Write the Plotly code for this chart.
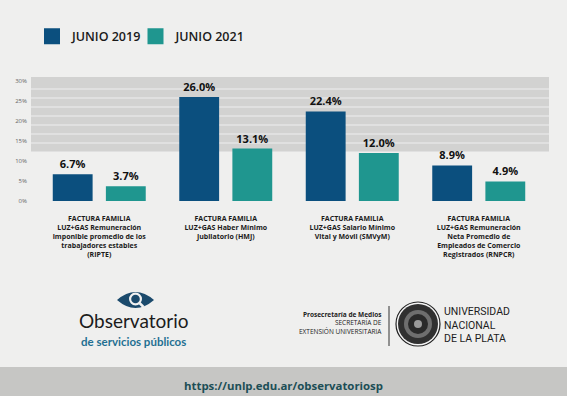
import plotly.graph_objects as go

# ---------------- data ----------------
categories = ["RIPTE", "HMJ", "SMVyM", "RNPCR"]
category_labels = [
    "FACTURA FAMILIA<br>LUZ+GAS Remuneración<br>imponible promedio de los<br>trabajadores estables<br>(RIPTE)",
    "FACTURA FAMILIA<br>LUZ+GAS Haber Mínimo<br>Jubilatorio (HMJ)",
    "FACTURA FAMILIA<br>LUZ+GAS Salario Mínimo<br>Vital y Móvil (SMVyM)",
    "FACTURA FAMILIA<br>LUZ+GAS Remuneración<br>Neta Promedio de<br>Empleados de Comercio<br>Registrados (RNPCR)",
]
series_names = ["JUNIO 2019", "JUNIO 2021"]
values_2019 = [6.7, 26.0, 22.4, 8.9]
values_2021 = [3.7, 13.1, 12.0, 4.9]
series_values = [values_2019, values_2021]
y_tick_values = [0, 5, 10, 15, 20, 25, 30]
y_tick_labels = ["0%", "5%", "10%", "15%", "20%", "25%", "30%"]

# ---------------- style ----------------
W_PX, H_PX = 567, 396
ML, MR, MT, MB = 36, 25, 77, 195
PW, PH = W_PX - ML - MR, H_PX - MT - MB
colors = ["#0b4f7e", "#1f968f"]
FONT = "Open Sans"
legend_ids = ["legend", "legend2"]
legend_left_px = [32, 135.5]


def px(x):
    return (x - ML) / PW


def py(y):
    return 1 - (y - MT) / PH


fig = go.Figure()

for name, vals, col in zip(series_names, series_values, colors):
    fig.add_trace(go.Bar(
        x=categories, y=vals, name=name, marker=dict(color=col, line=dict(width=0)),
        texttemplate="%{y:.1f}%", textposition="outside",
        textfont=dict(family=FONT, size=11, color="#111111", weight=700),
        cliponaxis=False, showlegend=False, hoverinfo="skip",
    ))

# legend entries (square swatches), one legend box per series
for name, col, lid in zip(series_names, colors, legend_ids):
    fig.add_trace(go.Scatter(
        x=[None], y=[None], mode="markers", name=name, legend=lid,
        marker=dict(symbol="square", size=16, color=col, line=dict(width=0)),
    ))

legend_style = dict(orientation="h", xanchor="left", y=py(36.5), yanchor="middle",
                    font=dict(family=FONT, size=12.5, color="#1a1a1a", weight=600),
                    bgcolor="rgba(0,0,0,0)", itemsizing="trace", itemclick=False,
                    itemdoubleclick=False)

shapes = []
# background stripes behind the plot
stripe_edges = [77, 89, 98, 107, 116, 125, 134, 143, 152]
for i in range(len(stripe_edges) - 1):
    shapes.append(dict(type="rect", xref="paper", yref="paper", layer="below",
                       x0=px(31), x1=px(549), y0=py(stripe_edges[i + 1] - 0.5),
                       y1=py(stripe_edges[i] + 0.5 if i else stripe_edges[i]),
                       fillcolor="#d2d2d1", line=dict(width=0)))
# footer band
shapes.append(dict(type="rect", xref="paper", yref="paper", layer="below",
                   x0=px(0), x1=px(567), y0=py(396), y1=py(367),
                   fillcolor="#c6c6c4", line=dict(width=0)))
# eye logo
ex0, ex1, ecx, ecy = 117, 154, 135.5, 300
eye_path = (f"M{px(ex0)},{py(ecy)} Q{px(ecx)},{py(ecy - 16)} {px(ex1)},{py(ecy)} "
            f"Q{px(ecx)},{py(ecy + 16)} {px(ex0)},{py(ecy)} Z")
shapes.append(dict(type="path", xref="paper", yref="paper", path=eye_path,
                   fillcolor="#1b4a6c", line=dict(width=0)))
for r, c in [(6.5, "#f2f2f2"), (4.3, "#1b4a6c")]:
    shapes.append(dict(type="circle", xref="paper", yref="paper",
                       x0=px(ecx - r), x1=px(ecx + r), y0=py(ecy - 1 + r), y1=py(ecy - 1 - r),
                       fillcolor=c, line=dict(width=0)))
shapes.append(dict(type="line", xref="paper", yref="paper",
                   x0=px(ecx + 4), y0=py(ecy + 3), x1=px(ecx + 8), y1=py(ecy + 7),
                   line=dict(color="#f2f2f2", width=2.5)))
# divider line
shapes.append(dict(type="line", xref="paper", yref="paper",
                   x0=px(389), x1=px(389), y0=py(306), y1=py(346),
                   line=dict(color="#333333", width=1)))
# university seal
scx, scy = 418, 324
for r, c, lw in [(22, "#f4f4f4", 1.2), (20, "#303030", 0), (14, "#6e6e6e", 0),
                 (10, "#2a2a2a", 0), (4, "#9a9a9a", 0)]:
    shapes.append(dict(type="circle", xref="paper", yref="paper",
                       x0=px(scx - r), x1=px(scx + r), y0=py(scy + r), y1=py(scy - r),
                       fillcolor=c, line=dict(width=lw, color="#222222")))

annotations = [
    dict(text="Observatorio", x=px(133.5), y=py(320), xref="paper", yref="paper",
         showarrow=False, xanchor="center", yanchor="middle",
         font=dict(family="Lato", size=19, color="#1c1c1c")),
    dict(text="de servicios públicos", x=px(133.5), y=py(341.5), xref="paper", yref="paper",
         showarrow=False, xanchor="center", yanchor="middle",
         font=dict(family="Lato", size=11.5, color="#1f6f92", weight=700)),
    dict(text="<b>Prosecretaría de Medios</b><br>SECRETARÍA DE<br>EXTENSIÓN UNIVERSITARIA",
         x=px(384), y=py(323), xref="paper", yref="paper", align="right",
         showarrow=False, xanchor="right", yanchor="middle",
         font=dict(family=FONT, size=6.5, color="#222222")),
    dict(text="UNIVERSIDAD<br>NACIONAL<br>DE LA PLATA",
         x=px(442), y=py(325), xref="paper", yref="paper", align="left",
         showarrow=False, xanchor="left", yanchor="middle",
         font=dict(family="Roboto", size=10.5, color="#1c1c1c")),
    dict(text="https://unlp.edu.ar/observatoriosp", x=px(283.5), y=py(385.5),
         xref="paper", yref="paper", showarrow=False, xanchor="center", yanchor="middle",
         font=dict(family=FONT, size=11.4, color="#1c4e56", weight=700)),
]

fig.update_layout(
    width=W_PX, height=H_PX,
    margin=dict(l=ML, r=MR, t=MT, b=MB, pad=0),
    paper_bgcolor="#efefee", plot_bgcolor="rgba(0,0,0,0)",
    barmode="group", bargap=0.16, bargroupgap=0.25,
    font=dict(family=FONT),
    showlegend=True,
    legend=dict(x=px(legend_left_px[0]), **legend_style),
    legend2=dict(x=px(legend_left_px[1]), **legend_style),
    xaxis=dict(type="category", categoryorder="array", categoryarray=categories,
               tickvals=categories, ticktext=category_labels, ticks="",
               showgrid=False, zeroline=False, showline=False,
               tickfont=dict(family=FONT, size=7, color="#1a1a1a", weight=700),
               ticklabelstandoff=12),
    yaxis=dict(range=[0, 31], tickvals=y_tick_values, ticktext=y_tick_labels,
               showgrid=False, zeroline=False, showline=False, ticks="",
               tickfont=dict(family=FONT, size=6, color="#666666"),
               ticklabelstandoff=8),
    shapes=shapes, annotations=annotations,
)

fig.write_html(
    "out.html",
    config={"displayModeBar": False},
    post_script="document.body.style.margin='0';document.body.style.padding='0';"
                "document.body.style.overflow='hidden';",
)
